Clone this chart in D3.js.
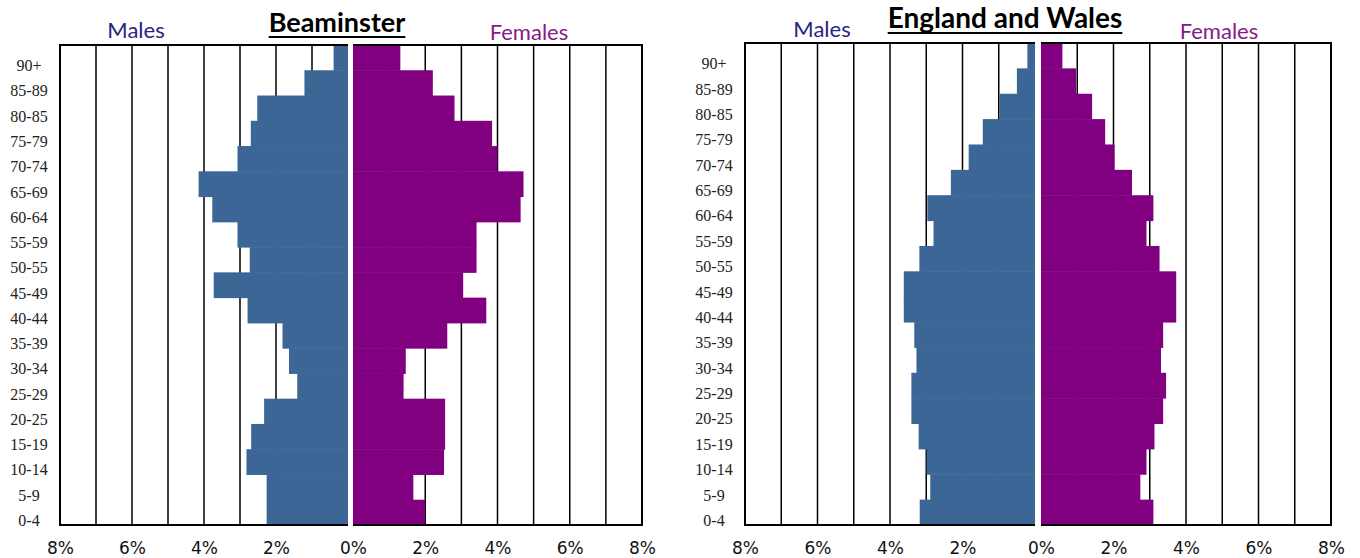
<!DOCTYPE html>
<html>
<head>
<meta charset="utf-8">
<script src="https://cdn.jsdelivr.net/npm/d3@7"></script>
<style>
  body { margin: 0; background: #fff; }
  svg { display: block; }
</style>
</head>
<body>
<svg></svg>
<script>
// age groups, bottom to top (labels kept as in the original chart)
const ageGroups = ["0-4", "5-9", "10-14", "15-19", "20-25", "25-29", "30-34", "35-39", "40-44",
  "45-49", "50-55", "55-59", "60-64", "65-69", "70-74", "75-79", "80-85", "85-89", "90+"];

// % of population
const beaminsterMales = [2.26, 2.26, 2.82, 2.69, 2.33, 1.41, 1.64, 1.82, 2.79, 3.73,
  2.73, 3.07, 3.77, 4.15, 3.07, 2.70, 2.52, 1.21, 0.40];
const beaminsterFemales = [2.0, 1.67, 2.52, 2.55, 2.55, 1.40, 1.46, 2.61, 3.69, 3.05,
  3.42, 3.42, 4.64, 4.72, 4.0, 3.85, 2.81, 2.21, 1.31];
const englandMales = [3.18, 2.89, 2.99, 3.21, 3.41, 3.41, 3.27, 3.33, 3.62, 3.62,
  3.19, 2.80, 2.97, 2.32, 1.83, 1.44, 0.98, 0.50, 0.21];
const englandFemales = [3.10, 2.74, 2.91, 3.13, 3.37, 3.45, 3.31, 3.37, 3.73, 3.73,
  3.27, 2.91, 3.10, 2.51, 2.03, 1.77, 1.41, 0.97, 0.59];

const maleTicks = [8, 6, 4, 2];
const femaleTicks = [0, 2, 4, 6, 8];
const gridValues = [1, 2, 3, 4, 5, 6, 7];

const maleColor = "#3b6696";
const femaleColor = "#800080";

const svg = d3.select("svg").attr("width", 1360).attr("height", 558);

const drawPyramid = (opts) => {
  const g = svg.append("g");
  const xMale = d3.scaleLinear().domain([8, 0]).range([opts.left, opts.mid]);
  const xFemale = d3.scaleLinear().domain([0, 8]).range([opts.mid + opts.gap, opts.right]);
  const y = d3.scaleBand()
    .domain(ageGroups.slice().reverse())
    .range([opts.top, opts.bottom]);

  // gridlines
  g.selectAll(".gm").data(gridValues).enter().append("line")
    .attr("x1", (d) => xMale(d)).attr("x2", (d) => xMale(d))
    .attr("y1", opts.top).attr("y2", opts.bottom)
    .attr("stroke", "#000").attr("stroke-width", 1.5);
  g.selectAll(".gf").data(gridValues).enter().append("line")
    .attr("x1", (d) => xFemale(d)).attr("x2", (d) => xFemale(d))
    .attr("y1", opts.top).attr("y2", opts.bottom)
    .attr("stroke", "#000").attr("stroke-width", 1.5);

  // bars
  g.selectAll(".male").data(opts.males).enter().append("rect")
    .attr("x", (d) => xMale(d))
    .attr("width", (d) => xMale(0) - xMale(d))
    .attr("y", (d, i) => y(ageGroups[i]))
    .attr("height", y.bandwidth() + 0.5)
    .attr("fill", maleColor);
  g.selectAll(".female").data(opts.females).enter().append("rect")
    .attr("x", xFemale(0))
    .attr("width", (d) => xFemale(d) - xFemale(0))
    .attr("y", (d, i) => y(ageGroups[i]))
    .attr("height", y.bandwidth() + 0.5)
    .attr("fill", femaleColor);

  // frame: top, bottom, outer sides
  const frame = g.append("g").attr("stroke", "#000").attr("stroke-width", 2).attr("fill", "none");
  frame.append("path")
    .attr("d", `M${xMale(0)},${opts.top}H${xMale(8)}V${opts.bottom}H${xMale(0)}`);
  frame.append("path")
    .attr("d", `M${xFemale(0)},${opts.top}H${xFemale(8)}V${opts.bottom}H${xFemale(0)}`);

  // age labels
  g.selectAll(".age").data(ageGroups).enter().append("text")
    .attr("x", opts.labelX)
    .attr("y", (d) => y(d) + y.bandwidth() / 2 + 8)
    .attr("dy", "0.35em")
    .attr("text-anchor", "middle")
    .attr("font-family", "Liberation Serif")
    .attr("font-size", 16)
    .attr("fill", "#222")
    .text((d) => d);

  // x axes
  const fmt = (d) => d + "%";
  const maleAxis = d3.axisBottom(xMale).tickValues(maleTicks).tickFormat(fmt).tickSize(0).tickPadding(17);
  const femaleAxis = d3.axisBottom(xFemale).tickValues(femaleTicks).tickFormat(fmt).tickSize(0).tickPadding(17);
  [maleAxis, femaleAxis].forEach((ax) => {
    const a = g.append("g").attr("transform", `translate(0, ${opts.bottom})`).call(ax);
    a.select(".domain").remove();
    a.selectAll("text")
      .attr("font-family", "DejaVu Sans")
      .attr("font-size", 17)
      .attr("fill", "#111");
  });

  // titles
  const title = g.append("text")
    .attr("x", opts.titleX).attr("y", opts.titleY)
    .attr("text-anchor", "middle")
    .attr("font-family", "Lato").attr("font-weight", "bold")
    .attr("font-size", opts.titleSize).attr("fill", "#000")
    .text(opts.title);
  const bb = title.node().getBBox();
  g.append("line")
    .attr("x1", bb.x).attr("x2", bb.x + bb.width)
    .attr("y1", opts.titleY + 5).attr("y2", opts.titleY + 5)
    .attr("stroke", "#000").attr("stroke-width", 2);

  g.append("text")
    .attr("x", opts.malesX).attr("y", opts.malesY)
    .attr("text-anchor", "middle")
    .attr("font-family", "Lato").attr("font-size", 22)
    .attr("fill", "#26267f")
    .text("Males");
  g.append("text")
    .attr("x", opts.femalesX).attr("y", opts.femalesY)
    .attr("text-anchor", "middle")
    .attr("font-family", "Lato").attr("font-size", 22)
    .attr("fill", "#861a86")
    .text("Females");
};

drawPyramid({
  males: beaminsterMales, females: beaminsterFemales,
  left: 60, mid: 348, gap: 5, right: 642, top: 45, bottom: 525,
  labelX: 29, title: "Beaminster", titleX: 337, titleY: 32, titleSize: 27,
  malesX: 136, malesY: 38, femalesX: 529, femalesY: 40,
});

drawPyramid({
  males: englandMales, females: englandFemales,
  left: 745, mid: 1035, gap: 6, right: 1331, top: 43, bottom: 525,
  labelX: 714, title: "England and Wales", titleX: 1005, titleY: 28, titleSize: 28,
  malesX: 822, malesY: 37, femalesX: 1219, femalesY: 39,
});
</script>
</body>
</html>
